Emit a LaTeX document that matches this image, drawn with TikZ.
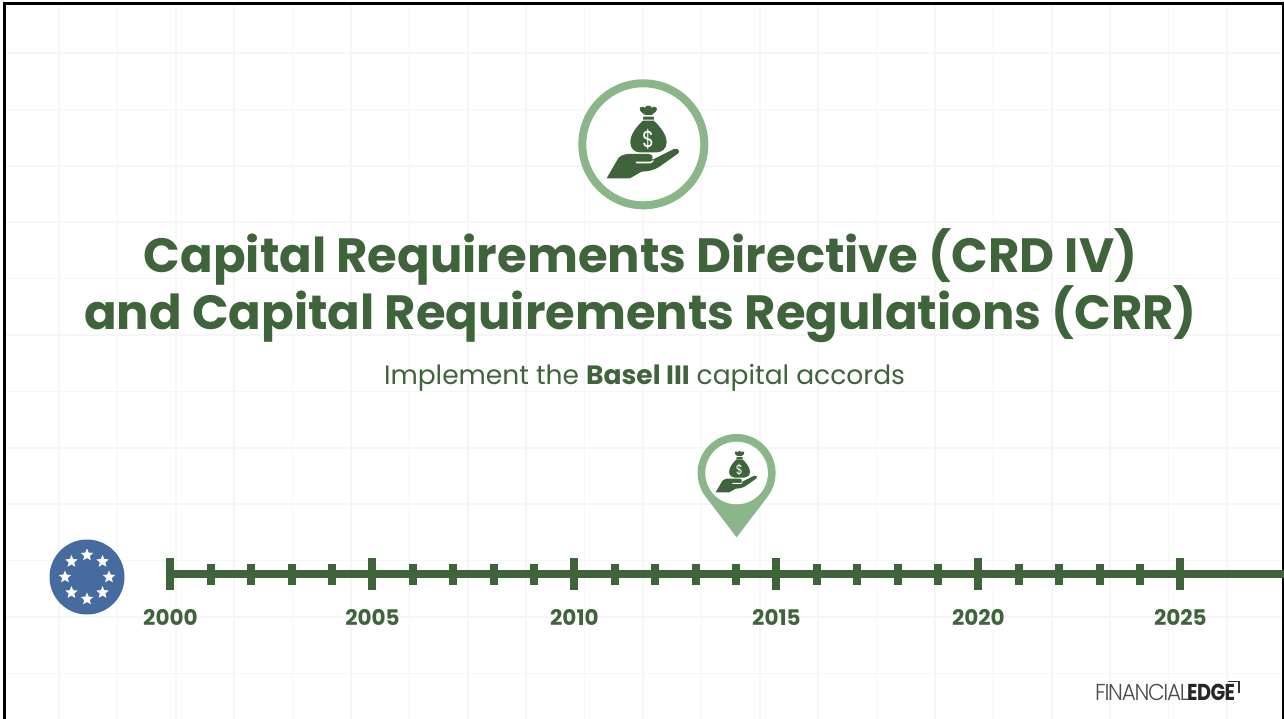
\documentclass[tikz,border=0pt]{standalone}
\usepackage{fontspec}
\setmainfont{Poppins}
\newfontfamily\logolight[LetterSpace=-6]{Poppins Light}
\newfontfamily\logobold[LetterSpace=-3]{Poppins}
\usetikzlibrary{shapes.geometric, positioning, calc}

\definecolor{leafdark}{HTML}{3F633B}
\definecolor{leaflight}{HTML}{8AB689}
\definecolor{flagblue}{HTML}{466C9F}
\definecolor{gridgrey}{HTML}{F6F6F6}

\begin{document}
\begin{tikzpicture}[
    x=1pt, y=-1pt,
    title/.style={font=\fontsize{48.1}{48}\selectfont\bfseries, text=leafdark, inner sep=0pt},
    subtitle/.style={font=\fontsize{26.5}{26}\selectfont, text=leafdark, inner sep=0pt},
    yearlabel/.style={font=\fontsize{21.5}{21}\selectfont\bfseries, text=leafdark, inner sep=0pt},
    majortick/.style={rectangle, fill=leafdark, minimum width=8pt, minimum height=32pt, inner sep=0pt},
    minortick/.style={rectangle, fill=leafdark, minimum width=8pt, minimum height=21pt, inner sep=0pt},
    eustar/.style={star, star points=5, star point ratio=2.2, fill=white, minimum size=13pt, inner sep=0pt},
    ring/.style={circle, draw=leaflight, line width=8pt, fill=white, minimum size=122pt, inner sep=0pt},
    axis/.style={line width=8pt, draw=leafdark},
    bagicon/.pic={
        % crown and band of the bag
        \fill[leafdark] (5,-88) .. controls (-3,-95) and (-14,-100) .. (-10,-110)
            .. controls (-7,-114) and (0,-113) .. (5,-110)
            .. controls (7,-118) and (23,-118) .. (25,-110)
            .. controls (30,-113) and (37,-114) .. (40,-110)
            .. controls (44,-100) and (33,-95) .. (25,-88) -- cycle;
        \fill[leafdark] (0,-83) -- (31,-83) -- (32,-74) -- (-1,-74) -- cycle;
        % body of the bag
        \fill[leafdark] (-1,-71) -- (31,-71)
            .. controls (52,-52) and (70,-28) .. (70,-6)
            .. controls (70,14) and (54,24) .. (42,24)
            -- (-12,24)
            .. controls (-24,24) and (-39,14) .. (-39,-6)
            .. controls (-39,-28) and (-22,-52) .. (-1,-71) -- cycle;
        \node[transform shape, font=\fontsize{23}{23}\selectfont, text=white, inner sep=0pt, scale=3, xscale=0.85] (dollar) at (15,-16) {\$};
        % hand
        \fill[leafdark] (-110,102) -- (-74,40) .. controls (-62,30) and (-50,29) .. (-40,29)
            -- (15,29) .. controls (28,30) and (32,40) .. (24,46)
            -- (32,44) -- (92,14) .. controls (105,10) and (112,22) .. (104,28)
            -- (50,66) .. controls (35,78) and (10,82) .. (-5,82)
            -- (-40,102) -- cycle;
        \fill[white] (-22,52) -- (22,52) -- (30,47) -- (30,52) -- (22,57) -- (-22,57) -- cycle;
    }
]
\useasboundingbox (0,0) rectangle (1284,719);

% Grid
\foreach \col in {0,...,21} {
    \draw[gridgrey, line width=1.5pt] ({59+58.4*\col},6) -- ({59+58.4*\col},719);
}
\foreach \row in {0,...,11} {
    \draw[gridgrey, line width=1.5pt] (6,{53+56.4*\row}) -- (1282,{53+56.4*\row});
}

% Frame
\draw[black, line width=3pt] (4.5,719) -- (4.5,4) -- (1283.5,4) -- (1283.5,719);

% Nodes
\node[ring] (bagring) at (643.3,144.3) {};
\pic[scale=1/3] at (bagring.center) {bagicon};

\node[title] (titleone) at (640.5,257) {Capital Requirements Directive (CRD IV)};
\node[title] (titletwo) at (640.5,314) {and Capital Requirements Regulations (CRR)};
\node[subtitle] (strapline) at (644.5,377.5) {Implement the \textbf{Basel III} capital accords};

% Marker
\coordinate (markertop) at (736.6,473);
\fill[leaflight] (736.6,537.3) -- ++(31,-40.7) arc[start angle=-37.3, end angle=217.3, radius=39pt] -- cycle;
\node[circle, fill=white, minimum size=62.6pt, inner sep=0pt] (markerdisc) at (markertop) {};
\pic[scale=0.191] at (markerdisc.center) {bagicon};

% Flag
\node[circle, fill=flagblue, minimum size=75pt, inner sep=0pt] (flag) at (87,577) {};
\foreach \angle in {0,45,...,315} {
    \node[eustar] (star\angle) at ($(flag.center)+(\angle:22)$) {};
}

% Timeline
\coordinate (axisend) at (1284,574);
\foreach \year [evaluate=\year as \tickx using {170.4+40.4*(\year-2000)}] in {2000,...,2025} {
    \pgfmathtruncatemacro{\rest}{mod(\year,5)}
    \ifnum\rest=0
        \node[majortick] (tick\year) at (\tickx,574) {};
        \node[yearlabel] (label\year) at (\tickx,617.5) {\year};
    \else
        \node[minortick] (tick\year) at (\tickx,574) {};
    \fi
}
\draw[axis] (tick2000.center) -- (axisend);

% Logo
\node[inner sep=0pt, anchor=west, font=\fontsize{23}{23}\selectfont, text=black!70, xscale=0.94] (logofin) at (1095,692.5)
    {\logolight FINANCIAL};
\node[inner sep=0pt, anchor=west, font=\fontsize{23}{23}\selectfont, text=black!85, xscale=0.84] (logoedge) at (1187,692.5)
    {\logobold\bfseries EDGE};
\coordinate (cornerleft) at (1228,681.5);
\coordinate (cornerright) at (1239,693);
\draw[black!80, line width=1.6pt] (cornerleft) -| (cornerright);

\end{tikzpicture}
\end{document}
